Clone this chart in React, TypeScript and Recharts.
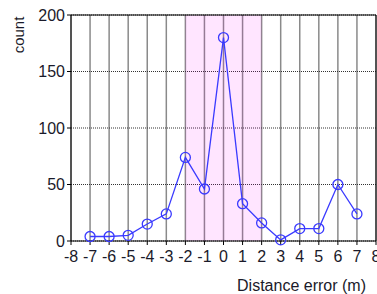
import { LineChart, Line, XAxis, YAxis, CartesianGrid, ReferenceArea, ReferenceLine, Label } from 'recharts'

const errors = [-7, -6, -5, -4, -3, -2, -1, 0, 1, 2, 3, 4, 5, 6, 7]
const counts = [4, 4, 5, 15, 24, 74, 46, 180, 33, 16, 1, 11, 11, 50, 24]
const xTicks = [-8, -7, -6, -5, -4, -3, -2, -1, 0, 1, 2, 3, 4, 5, 6, 7, 8]
const yTicks = [0, 50, 100, 150, 200]

const data = errors.map((e, i) => ({ error: e, count: counts[i] }))

const font = 'Liberation Sans, Arial, sans-serif'
const tickStyle = { fill: '#1a1a2a', fontSize: 16, fontFamily: font }

export default function App() {
  return (
    <div style={{ width: 377, height: 294 }}>
      <style>{'body{margin:0}'}</style>
      <LineChart width={377} height={294} data={data} margin={{ top: 15, right: 1, bottom: 0, left: 0 }}>
        <CartesianGrid horizontal={false} stroke="#8a8a8a" strokeWidth={1.5} verticalValues={xTicks} />
        <CartesianGrid vertical={false} stroke="#333" strokeDasharray="1 1" horizontalValues={yTicks} />
        <XAxis
          dataKey="error"
          type="number"
          domain={[-8, 8]}
          ticks={xTicks}
          interval={0}
          height={53}
          stroke="#000"
          tickSize={4}
          tickMargin={6}
          tick={tickStyle}
        >
          <Label
            value="Distance error (m)"
            position="insideBottom"
            dx={78}
            offset={3}
            style={{ fill: '#1a1a2a', fontSize: 16, fontFamily: font }}
          />
        </XAxis>
        <YAxis
          type="number"
          domain={[0, 200]}
          ticks={yTicks}
          width={71}
          stroke="#000"
          tickSize={4}
          tickMargin={2}
          tick={tickStyle}
        >
          <Label
            content={() => (
              <text
                x={24}
                y={35}
                transform="rotate(-90 24 35)"
                textAnchor="middle"
                fill="#1a1a2a"
                fontSize={15}
                fontFamily={font}
              >
                count
              </text>
            )}
          />
        </YAxis>
        <ReferenceLine y={200} stroke="#000" />
        <ReferenceLine x={8} stroke="#000" />
        <Line
          dataKey="count"
          stroke="#3a3aff"
          strokeWidth={1.3}
          dot={{ r: 5, stroke: '#3a3aff', strokeWidth: 1.3, fill: 'none' }}
          isAnimationActive={false}
        />
        <ReferenceArea x1={-2} x2={2} y1={0} y2={200} fill="#ff00ff" fillOpacity={0.1} stroke="none" />
      </LineChart>
    </div>
  )
}
